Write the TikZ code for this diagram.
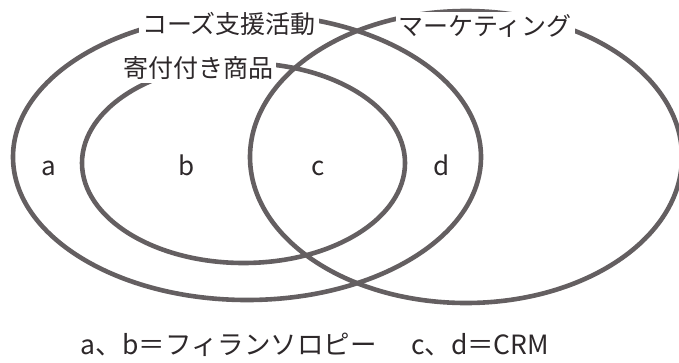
\documentclass[tikz,border=0pt]{standalone}
\usepackage{fontspec}
\setmainfont{Noto Sans CJK JP}
\usetikzlibrary{shapes.geometric}
\begin{document}
\begin{tikzpicture}[x=1pt,y=-1pt]
\definecolor{ringcol}{RGB}{100,95,97}
\definecolor{ink}{RGB}{45,40,42}
\tikzset{
  ring/.style={draw=ringcol,line width=4.6pt,ellipse,inner sep=0pt,outer sep=0pt},
  lab/.style={fill=white,inner sep=3pt,text=ink,font=\fontsize{25}{29}\selectfont},
  letter/.style={text=ink,anchor=base,font=\fontsize{26}{30}\selectfont},
  foot/.style={text=ink,anchor=base,font=\fontsize{26.5}{30}\selectfont}
}
\useasboundingbox (0,0) rectangle (679,362);
\clip (0,0) rectangle (679,362);
\node[ring,minimum width=468pt,minimum height=286pt] (cause) at (247,157) {};
\node[ring,minimum width=323pt,minimum height=200pt] (goods) at (243.5,163) {};
\node[ring,minimum width=432pt,minimum height=292pt] (mkt) at (466,157) {};
\node[lab] (lcause) at (229,24) {コーズ支援活動};
\node[lab] (lgoods) at (198,68) {寄付付き商品};
\node[lab] (lmkt) at (485,26) {マーケティング};
\node[letter] (a) at (49,175) {a};
\node[letter] (b) at (187,175) {b};
\node[letter] (c) at (318,175) {c};
\node[letter] (d) at (442,175) {d};
\node[foot] (note) at (315,354) {a、b＝フィランソロピー\hspace{1.3em}c、d＝CRM};
\end{tikzpicture}
\end{document}
